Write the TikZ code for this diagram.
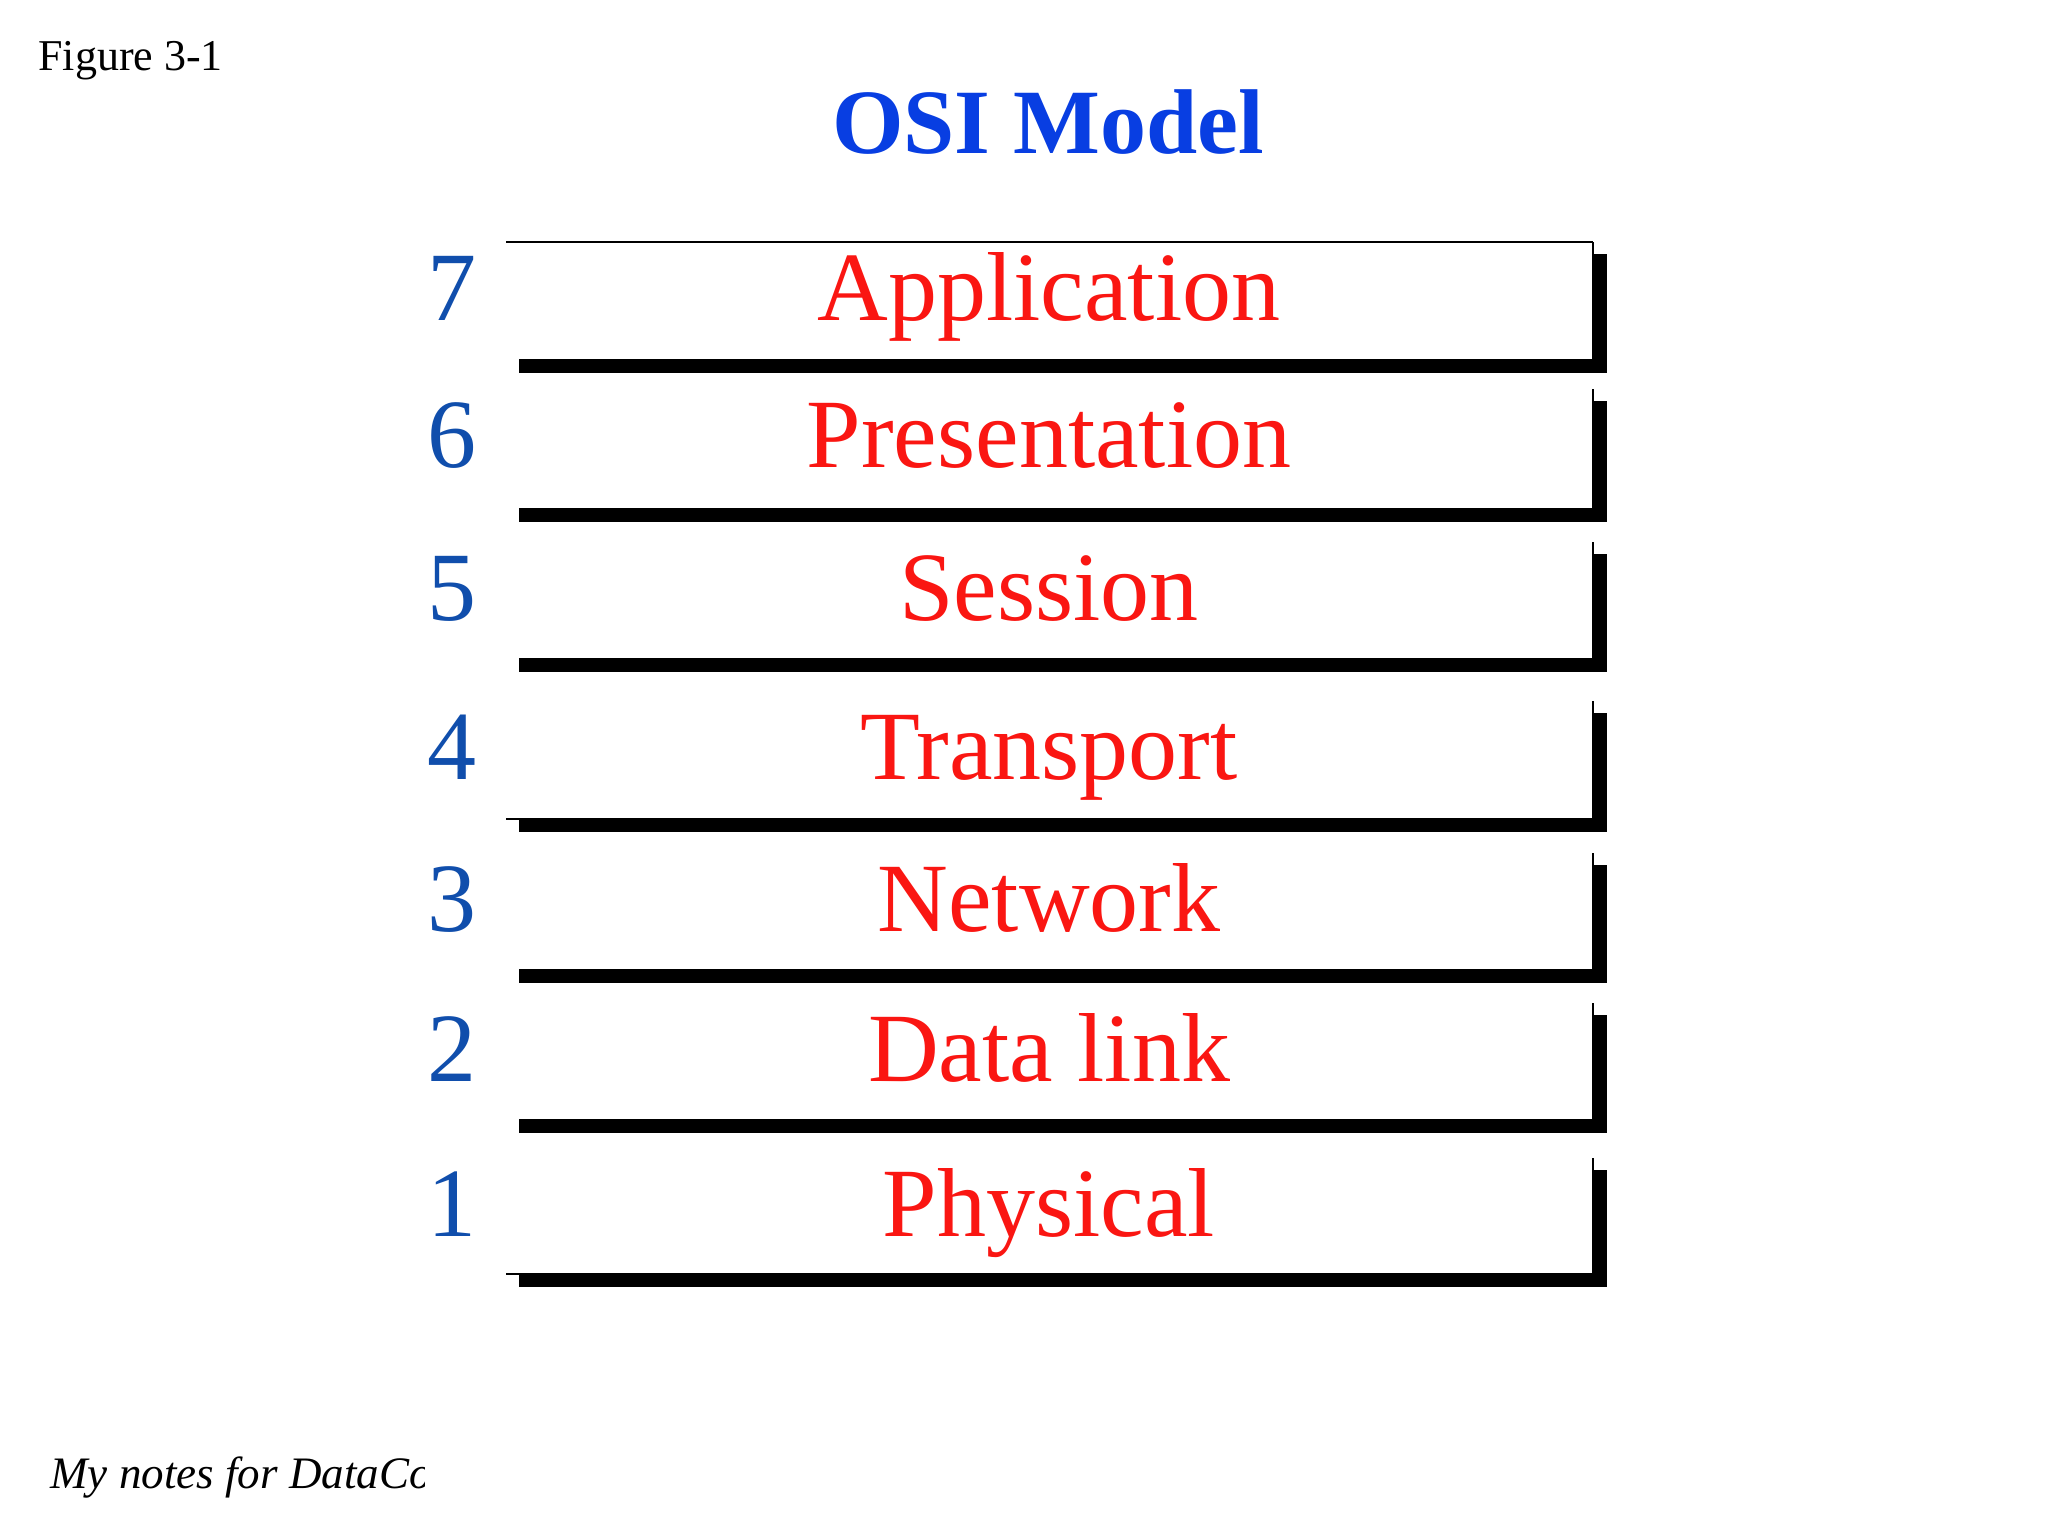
\documentclass[tikz,border=0pt]{standalone}
\usepackage{fontspec}
\setmainfont{Liberation Serif}
\definecolor{titleblue}{RGB}{8,62,226}
\definecolor{numblue}{RGB}{16,78,172}
\definecolor{layerred}{RGB}{250,22,18}
\begin{document}
\begin{tikzpicture}[x=0.5pt,y=-0.5pt,
  layerbox/.style={rectangle, fill=white, draw=none, inner sep=0pt,
    minimum width=543pt, anchor=north west},
  boxline/.style={draw=black, line width=0.8pt},
  shadowfill/.style={fill=black},
  layertext/.style={anchor=base, text=layerred, inner sep=0pt,
    font=\fontsize{49}{49}\selectfont},
  layernum/.style={anchor=base, text=numblue, inner sep=0pt,
    font=\fontsize{49}{49}\selectfont}]
\useasboundingbox (0,0) rectangle (2048,1536);
\fill[white] (0,0) rectangle (2048,1536);

% heading texts
\node[anchor=base west, inner sep=0pt, font=\fontsize{22}{22}\selectfont] (fig) at (38,71) {Figure 3-1};
\node[anchor=base, inner sep=0pt, text=titleblue, font=\fontsize{46}{46}\selectfont\bfseries] (title) at (1048,153) {OSI Model};

% layers
\foreach \t/\b/\n/\lab in {242/359/7/Application, 389/508/6/Presentation, 542/658/5/Session,
    701/818/4/Transport, 853/969/3/Network, 1003/1119/2/Data link, 1158/1273/1/Physical}{
  \pgfmathsetmacro\hh{(\b-\t)/2}
  \fill[shadowfill] (519,{\t+12}) rectangle (1607,{\b+14});
  \node[layerbox, minimum height=\hh pt] (L\n) at (506,\t) {};
  \draw[boxline] (L\n.north east) -- (L\n.south east);
  \node[layernum] (N\n) at (452,{\t+78}) {\n};
}
\draw[boxline] (L7.north west) -- (L7.north east);
\draw[boxline] (L4.south west) -- ++(14,0);
\draw[boxline] (L1.south west) -- ++(14,0);

\node[layertext] (T7) at (1049,320) {Application};
\node[layertext] (T6) at (1049,467) {Presentation};
\node[layertext] (T5) at (1049,620) {Session};
\node[layertext] (T4) at (1049,779) {Transport};
\node[layertext] (T3) at (1049,931) {Network};
\node[layertext] (T2) at (1049,1081) {Data link};
\node[layertext] (T1) at (1049,1236) {Physical};

% footer (clipped)
\begin{scope}
  \clip (0,1400) rectangle (424,1536);
  \node[anchor=base west, inner sep=0pt, font=\fontsize{22.5}{22.5}\selectfont\itshape] (foot) at (50,1488) {My notes for DataCommunications};
\end{scope}
\end{tikzpicture}
\end{document}
